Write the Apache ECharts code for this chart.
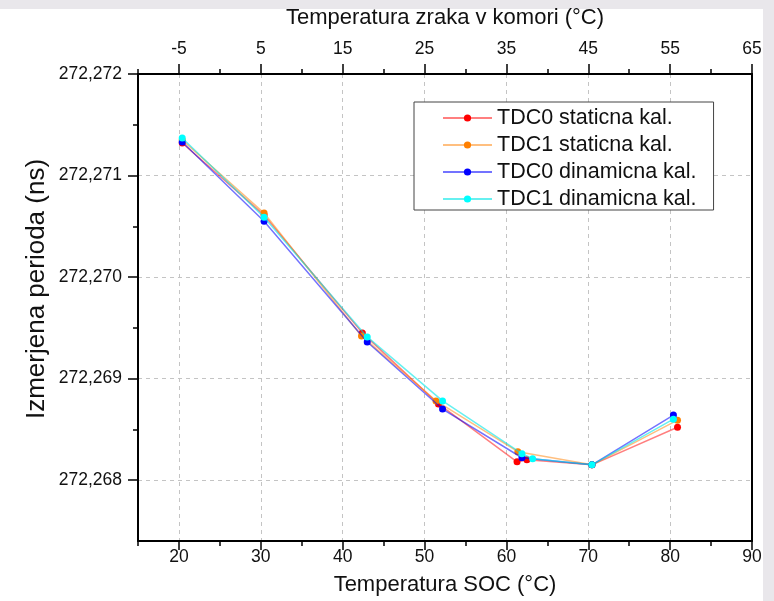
<!DOCTYPE html>
<html>
<head>
<meta charset="utf-8">
<script src="https://cdn.jsdelivr.net/npm/echarts@6/dist/echarts.min.js"></script>
<style>
html,body{margin:0;padding:0;background:#e9e7eb;}
#chart{width:774px;height:601px;}
</style>
</head>
<body>
<div id="chart"></div>
<script>
// ---- data ----
const seriesNames = ['TDC0 staticna kal.', 'TDC1 staticna kal.', 'TDC0 dinamicna kal.', 'TDC1 dinamicna kal.'];
const socTdc0Stat = [20.4, 30.4, 42.4, 51.7, 61.3, 62.5, 70.45, 80.9];
const perTdc0Stat = [272.27132, 272.27061, 272.26945, 272.26875, 272.26818, 272.26820, 272.26815, 272.26852];
const socTdc1Stat = [20.4, 30.4, 42.3, 51.4, 61.4, 70.45, 80.9];
const perTdc1Stat = [272.27135, 272.27063, 272.26942, 272.26878, 272.26828, 272.26815, 272.26859];
const socTdc0Dyn = [20.4, 30.4, 43.0, 52.2, 61.9, 70.45, 80.4];
const perTdc0Dyn = [272.27133, 272.27055, 272.26936, 272.26870, 272.26822, 272.26815, 272.26864];
const socTdc1Dyn = [20.4, 30.4, 43.0, 52.2, 61.9, 63.2, 70.45, 80.4];
const perTdc1Dyn = [272.27137, 272.27059, 272.26941, 272.26878, 272.26826, 272.26821, 272.26815, 272.26860];
const bottomTicks = [20, 30, 40, 50, 60, 70, 80, 90];
const topTicks = [-5, 5, 15, 25, 35, 45, 55, 65];
const yTicks = [272.268, 272.269, 272.270, 272.271, 272.272];
const yTitle = 'Izmerjena perioda (ns)';

const markerColors = ['#ff0000', '#ff8000', '#0000ff', '#00ffff'];
const lineColors = ['rgba(255,0,0,0.5)', 'rgba(255,128,0,0.5)', 'rgba(0,0,255,0.55)', 'rgba(0,230,230,0.6)'];

const FONT = '"Liberation Sans", Arial, sans-serif';
const pairs = (xs, ys) => xs.map((x, i) => [x, ys[i]]);
const dataSets = [
  pairs(socTdc0Stat, perTdc0Stat),
  pairs(socTdc1Stat, perTdc1Stat),
  pairs(socTdc0Dyn, perTdc0Dyn),
  pairs(socTdc1Dyn, perTdc1Dyn)
];

// plot frame in pixels
const L = 138, R = 752, T = 74, B = 541;
const xMin = 15, xMax = 90, yMin = 272.2674, yMax = 272.272;
const pxPerX = (R - L) / (xMax - xMin);
const pxPerY = (B - T) / (yMax - yMin);
const x20 = L + (bottomTicks[0] - xMin) * pxPerX;
const y268 = B - (yTicks[0] - yMin) * pxPerY;

const lineAx = {show: true, onZero: false, lineStyle: {color: '#000', width: 2}};
const noAx = {show: false, onZero: false};
const tickStyle = {color: '#000', width: 1.5};
const dashed = {show: true, lineStyle: {color: '#c4c4c4', type: [4, 4], width: 1}};
const labelStyle = {color: '#111', fontSize: 17.5, fontFamily: FONT};
const nameStyle = {color: '#111', fontSize: 22, fontFamily: FONT};

const chart = echarts.init(document.getElementById('chart'), null, {renderer: 'canvas'});
chart.setOption({
  backgroundColor: '#e9e7eb',
  animation: false,
  graphic: [
    {type: 'rect', shape: {x: 0, y: 9, width: 763, height: 592}, style: {fill: '#ffffff'}, z: -100, silent: true},
    {type: 'text', x: 37, y: 289, rotation: Math.PI / 2, silent: true,
     style: {text: yTitle, fill: '#111', font: '26px ' + FONT, align: 'center', verticalAlign: 'middle'}}
  ],
  grid: [
    {left: L, right: 774 - R, top: T, bottom: 601 - B, outerBoundsMode: 'none', containLabel: false},
    {left: x20, right: 774 - R, top: T, bottom: 601 - B, outerBoundsMode: 'none', containLabel: false},
    {left: L, right: 774 - R, top: T, bottom: 601 - y268, outerBoundsMode: 'none', containLabel: false}
  ],
  legend: {
    show: true, orient: 'vertical', left: 414, top: 102,
    padding: [5, 17, 0, 28], itemGap: 5, itemWidth: 49, itemHeight: 9,
    backgroundColor: '#fff', borderColor: '#444', borderWidth: 1,
    textStyle: {color: '#111', fontSize: 21.5, fontFamily: FONT},
    data: seriesNames
  },
  xAxis: [
    {gridIndex: 0, type: 'value', position: 'bottom', min: xMin, max: xMax, interval: 5,
     axisLine: lineAx, axisTick: {show: true, length: 5, lineStyle: tickStyle}, axisLabel: {show: false}, splitLine: {show: false},
     name: 'Temperatura SOC (°C)', nameLocation: 'middle', nameGap: 33, nameTextStyle: nameStyle},
    {gridIndex: 0, type: 'value', position: 'top', min: -10, max: 65, interval: 5,
     axisLine: lineAx, axisTick: {show: true, length: 5, lineStyle: tickStyle}, axisLabel: {show: false}, splitLine: {show: false},
     name: 'Temperatura zraka v komori (°C)', nameLocation: 'middle', nameGap: 45, nameTextStyle: nameStyle},
    {gridIndex: 1, type: 'value', position: 'bottom', min: bottomTicks[0], max: bottomTicks[bottomTicks.length - 1], interval: 10,
     axisLine: noAx, axisTick: {show: true, length: 9, lineStyle: tickStyle},
     axisLabel: Object.assign({show: true, margin: 7, showMinLabel: true, showMaxLabel: true}, labelStyle),
     splitLine: dashed},
    {gridIndex: 1, type: 'value', position: 'top', min: topTicks[0], max: topTicks[topTicks.length - 1], interval: 10,
     axisLine: noAx, axisTick: {show: true, length: 10, lineStyle: tickStyle},
     axisLabel: Object.assign({show: true, margin: 16, showMinLabel: true, showMaxLabel: true}, labelStyle),
     splitLine: {show: false}},
    {gridIndex: 2, type: 'value', show: false, min: 0, max: 1}
  ],
  yAxis: [
    {gridIndex: 0, type: 'value', position: 'left', min: yMin, max: yMax,
     axisLine: lineAx, axisTick: {show: false}, axisLabel: {show: false}, splitLine: {show: false}},
    {gridIndex: 0, type: 'value', position: 'right', min: yMin, max: yMax,
     axisLine: lineAx, axisTick: {show: false}, axisLabel: {show: false}, splitLine: {show: false}},
    {gridIndex: 1, type: 'value', show: false, min: 0, max: 1},
    {gridIndex: 2, type: 'value', position: 'left', min: yTicks[0], max: yTicks[yTicks.length - 1], interval: 0.001,
     axisLine: noAx, axisTick: {show: true, length: 10, lineStyle: tickStyle},
     minorTick: {show: true, splitNumber: 2, length: 5, lineStyle: tickStyle},
     axisLabel: Object.assign({show: true, margin: 16, showMinLabel: true, showMaxLabel: true,
       formatter: v => v.toFixed(3).replace('.', ',')}, labelStyle),
     splitLine: dashed}
  ],
  series: seriesNames.map((name, i) => ({
    name: name, type: 'line', xAxisIndex: 0, yAxisIndex: 0,
    data: dataSets[i], symbol: 'circle', symbolSize: 7, showSymbol: true,
    itemStyle: {color: markerColors[i]},
    lineStyle: {color: lineColors[i], width: 1.5},
    z: 3 + i
  }))
});
</script>
</body>
</html>
